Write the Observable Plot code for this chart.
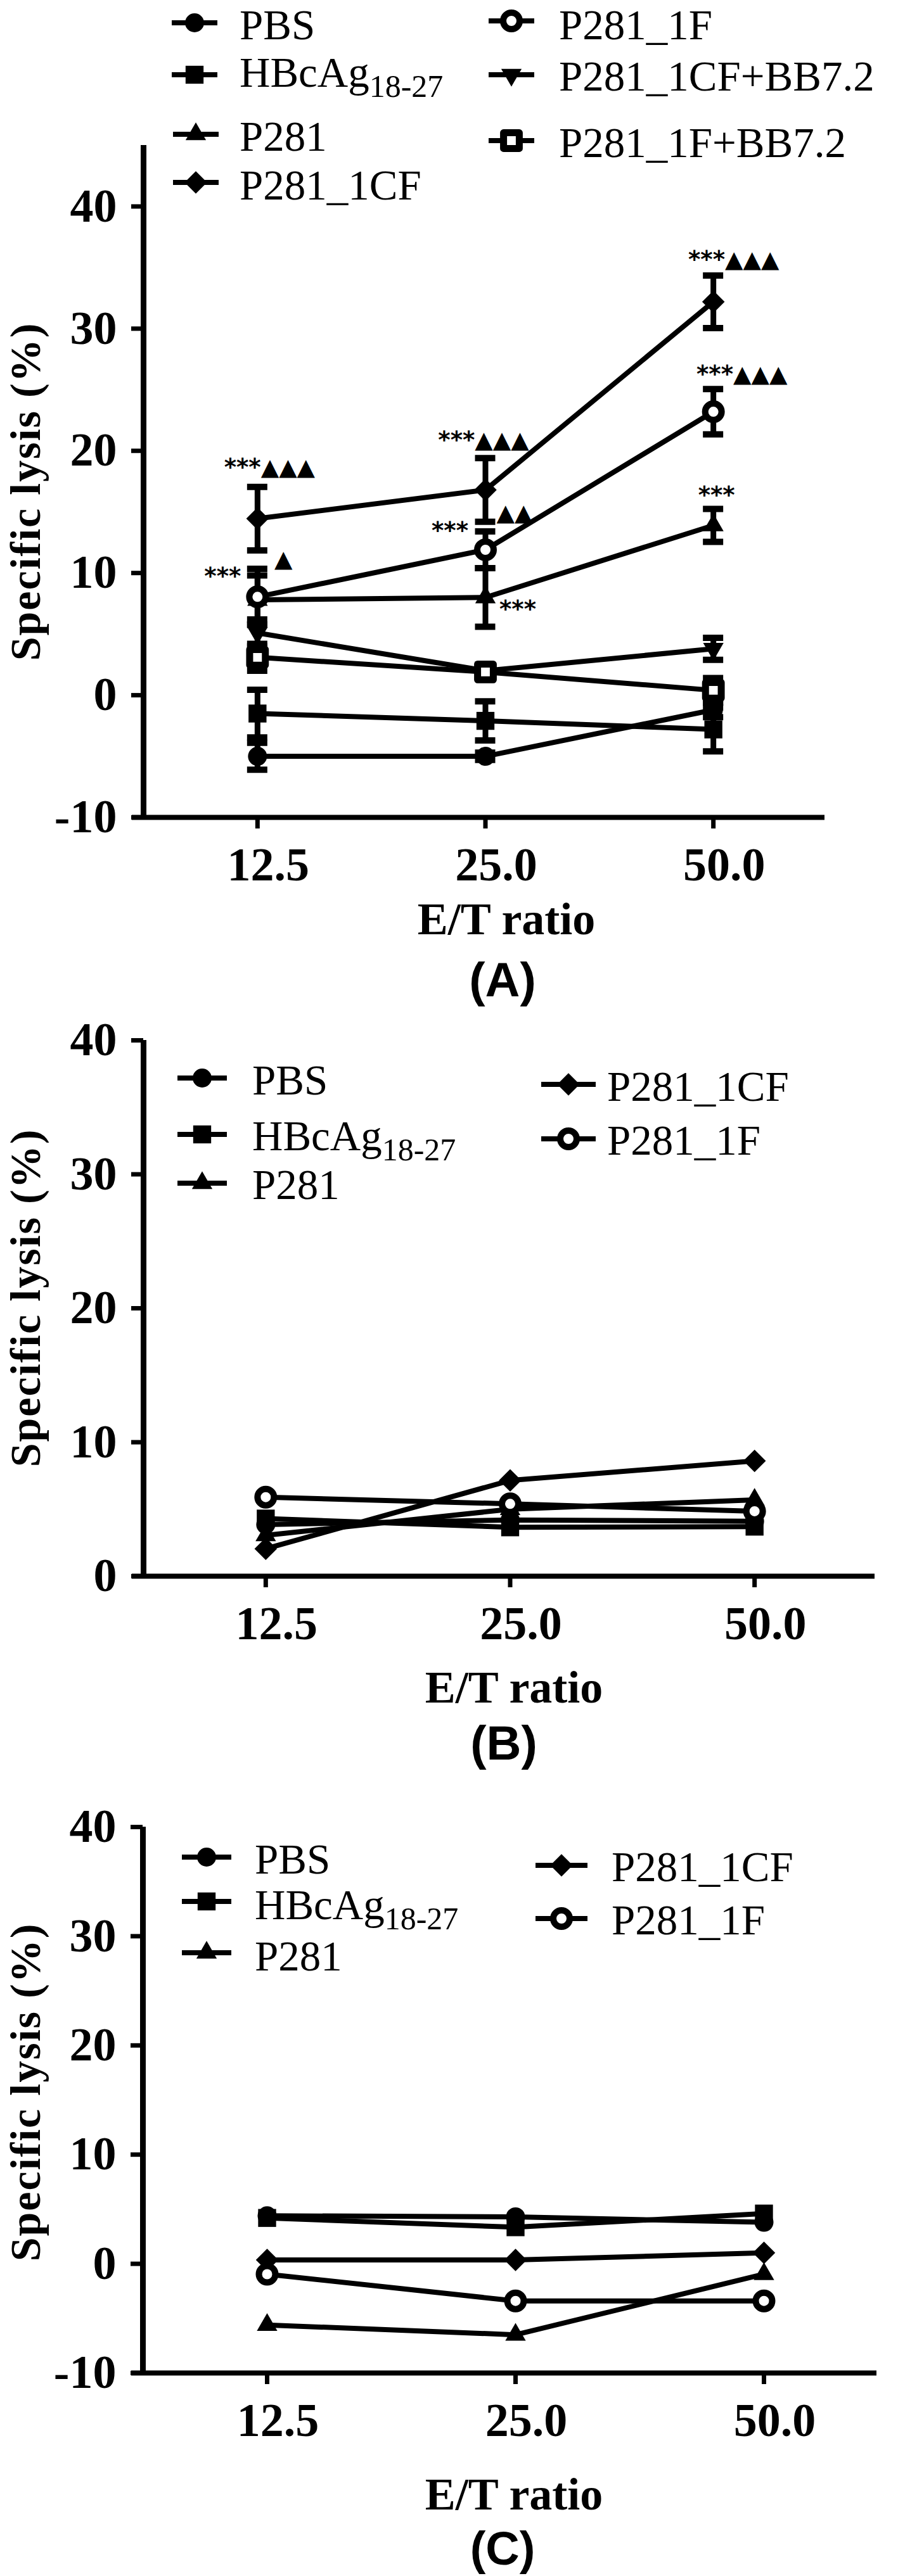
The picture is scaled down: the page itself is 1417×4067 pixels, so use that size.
<!DOCTYPE html>
<html>
<head>
<meta charset="utf-8">
<script src="https://cdn.jsdelivr.net/npm/d3@7"></script>
<script src="https://cdn.jsdelivr.net/npm/@observablehq/plot@0.6"></script>
<style>
  html, body { margin: 0; padding: 0; background: #fff; }
  #page { position: relative; width: 1417px; height: 4067px; overflow: hidden; background: #fff; }
  #page > svg { position: absolute; left: 0; }
</style>
</head>
<body>
<div id="page"></div>
<script>
// ---------------- data ----------------
const ratios = [12.5, 25, 50];
const groups = ["PBS", "HBcAg18-27", "P281", "P281_1CF", "P281_1F", "P281_1CF+BB7.2", "P281_1F+BB7.2"];

// Panel A (mean, error)
const pbsA = [-5.0, -5.0, -1.2],      pbsAErr = [1.1, 0.3, 0.6];
const hbcA = [-1.5, -2.1, -2.8],      hbcAErr = [1.95, 1.6, 1.8];
const p281A = [7.8, 8.0, 13.9],       p281AErr = [2.0, 2.4, 1.35];
const cfA = [14.45, 16.8, 32.2],      cfAErr = [2.6, 2.6, 2.15];
const fA = [8.05, 11.9, 23.2],        fAErr = [2.3, 1.5, 1.85];
const cfBbA = [5.1, 2.0, 3.8],        cfBbAErr = [1.1, 0.5, 0.9];
const fBbA = [3.1, 1.9, 0.4],         fBbAErr = [1.1, 0.5, 1.0];

// Panel B
const pbsB = [3.85, 4.2, 4.1];
const hbcB = [4.3, 3.65, 3.7];
const p281B = [3.05, 5.0, 5.7];
const cfB = [2.05, 7.15, 8.6];
const fB = [5.9, 5.4, 4.85];

// Panel C
const pbsC = [4.4, 4.3, 3.8];
const hbcC = [4.2, 3.35, 4.6];
const p281C = [-5.6, -6.5, -0.95];
const cfC = [0.35, 0.35, 1.0];
const fC = [-0.95, -3.4, -3.4];

// tick values
const yTicksA = [-10, 0, 10, 20, 30, 40];
const yTicksB = [0, 10, 20, 30, 40];
const yTicksC = [-10, 0, 10, 20, 30, 40];

// significance annotations (panel A)
const sigLabel = ["***▲▲▲", "***▲▲▲", "***▲▲▲", "***▲▲▲", "***", "▲", "***", "▲▲", "***", "***"];
const sigRatio = [12.5, 25, 50, 50, 50, 12.5, 12.5, 25, 25, 25];
const sigValue = [18.9, 21.1, 35.9, 26.5, 16.6, 11.4, 9.96, 15.15, 13.7, 7.3];
const sigShift = [19, -3, 32, 45, 5, 41, -55, 46, -56, 51];

// ---------------- helpers ----------------
function toRows(series) {
  const rows = [];
  for (const [group, vals, errs] of series) {
    vals.forEach((v, i) => rows.push({group, ratio: ratios[i], value: v, err: errs ? errs[i] : 0}));
  }
  return rows;
}
const rowsA = toRows([
  ["PBS", pbsA, pbsAErr], ["HBcAg18-27", hbcA, hbcAErr], ["P281", p281A, p281AErr],
  ["P281_1CF", cfA, cfAErr], ["P281_1F", fA, fAErr],
  ["P281_1CF+BB7.2", cfBbA, cfBbAErr], ["P281_1F+BB7.2", fBbA, fBbAErr]
]);
const rowsB = toRows([["PBS", pbsB], ["HBcAg18-27", hbcB], ["P281", p281B], ["P281_1CF", cfB], ["P281_1F", fB]]);
const rowsC = toRows([["PBS", pbsC], ["HBcAg18-27", hbcC], ["P281", p281C], ["P281_1CF", cfC], ["P281_1F", fC]]);
const notesA = sigLabel.map((label, i) => ({label, ratio: sigRatio[i], value: sigValue[i], shift: sigShift[i]}));

const diamondSym = {draw(c, s) { const r = Math.sqrt(s) * 0.62625; c.moveTo(0, -r); c.lineTo(r, 0); c.lineTo(0, r); c.lineTo(-r, 0); c.closePath(); }};
const triDownSym = {draw(c, s) { const y = -Math.sqrt(s / (3 * Math.sqrt(3))); c.moveTo(0, -2 * y); c.lineTo(-Math.sqrt(3) * y, y); c.lineTo(Math.sqrt(3) * y, y); c.closePath(); }};

const styleOf = {
  "PBS":            {symbol: d3.symbolCircle,   r: 15, fill: "black"},
  "HBcAg18-27":     {symbol: d3.symbolSquare,   r: 16, fill: "black"},
  "P281":           {symbol: d3.symbolTriangle, r: 12, fill: "black"},
  "P281_1CF":       {symbol: diamondSym,        r: 16, fill: "black"},
  "P281_1F":        {symbol: d3.symbolCircle,   r: 13, fill: "white", stroke: "black", strokeWidth: 10},
  "P281_1CF+BB7.2": {symbol: triDownSym,        r: 12, fill: "black"},
  "P281_1F+BB7.2":  {symbol: d3.symbolSquare,   r: 14, fill: "white", stroke: "black", strokeWidth: 11}
};

const serif = "'Liberation Serif', 'Times New Roman', serif";
const xDomain = [ratios[0] / Math.SQRT2, ratios[ratios.length - 1] * Math.SQRT2];

function panel({rows, yDomain, yTicks, marginTop, marginLeft, marginRight, height, lineInsetRight, notes = []}) {
  const errRows = rows.filter(d => d.err > 0);
  const present = groups.filter(g => rows.some(r => r.group === g));
  return Plot.plot({
    width: 1417,
    height,
    marginTop, marginLeft, marginRight, marginBottom: 110,
    x: {type: "log", base: 2, domain: xDomain, label: null},
    y: {domain: yDomain, label: null},
    style: {background: "none", overflow: "visible", fontFamily: serif, fontSize: "74px", fontWeight: "bold", color: "black"},
    marks: [
      Plot.ruleY([yDomain[0]], {strokeWidth: 8, insetLeft: -18, insetRight: lineInsetRight}),
      Plot.ruleX([xDomain[0]], {strokeWidth: 9, insetBottom: -4}),
      Plot.axisY({ticks: yTicks, tickSize: 19, tickPadding: 23, tickFormat: d => String(d), strokeWidth: 7, label: null}),
      Plot.axisX({ticks: ratios, tickSize: 18, strokeWidth: 7, fill: "none", tickFormat: () => "", label: null}),
      Plot.axisX({ticks: ratios, tickSize: 0, tickPadding: 47, tickFormat: d3.format(".1f"), dx: 17, label: null}),
      Plot.line(rows, {x: "ratio", y: "value", z: "group", stroke: "black", strokeWidth: 8}),
      Plot.ruleX(errRows, {x: "ratio", y1: d => d.value - d.err, y2: d => d.value + d.err, strokeWidth: 9}),
      Plot.ruleY(errRows, {x1: "ratio", x2: "ratio", y: d => d.value + d.err, insetLeft: -16, insetRight: -16, strokeWidth: 10}),
      Plot.ruleY(errRows, {x1: "ratio", x2: "ratio", y: d => d.value - d.err, insetLeft: -16, insetRight: -16, strokeWidth: 10}),
      ...present.map(g => Plot.dot(rows.filter(r => r.group === g), {
        x: "ratio", y: "value", strokeLinejoin: "round", ...styleOf[g]
      })),
      ...notes.map(n => Plot.text([n], {
        x: "ratio", y: "value", text: "label", dx: n.shift, dy: 5,
        fontFamily: "'DejaVu Sans', sans-serif", fontWeight: "bold", fontSize: 37,
        fill: "black", style: "letter-spacing:4px"
      }))
    ]
  });
}

const page = document.getElementById("page");

const svgA = panel({rows: rowsA, yDomain: [-10, 45], yTicks: yTicksA, marginTop: 229, marginLeft: 226, marginRight: 112, height: 1400, lineInsetRight: 4, notes: notesA});
svgA.style.top = "0px";
page.appendChild(svgA);

const svgB = panel({rows: rowsB, yDomain: [0, 40], yTicks: yTicksB, marginTop: 82, marginLeft: 226, marginRight: 34, height: 1038, lineInsetRight: 3});
svgB.style.top = "1560px";
page.appendChild(svgB);

const svgC = panel({rows: rowsC, yDomain: [-10, 40], yTicks: yTicksC, marginTop: 84, marginLeft: 225, marginRight: 16, height: 1056, lineInsetRight: 18});
svgC.style.top = "2800px";
page.appendChild(svgC);

// ---------------- titles, panel labels, legends (overlay) ----------------
const ov = d3.select(page).append("svg")
  .attr("width", 1417).attr("height", 4067)
  .style("top", "0px").style("pointer-events", "none");

[776, 2049, 3303].forEach(cy => {
  ov.append("text")
    .attr("transform", `translate(63,${cy}) rotate(-90)`)
    .attr("text-anchor", "middle")
    .attr("font-family", serif).attr("font-weight", "bold").attr("font-size", 68)
    .attr("letter-spacing", 2)
    .text("Specific lysis (%)");
});
[[799, 1475], [811, 2688], [811, 3962]].forEach(([cx, by]) => {
  ov.append("text").attr("x", cx).attr("y", by).attr("text-anchor", "middle")
    .attr("font-family", serif).attr("font-weight", "bold").attr("font-size", 72)
    .text("E/T ratio");
});
[["(A)", 793, 1573, 76], ["(B)", 795, 2778, 76], ["(C)", 793, 4049, 74]].forEach(([t, cx, by, fs]) => {
  ov.append("text").attr("x", cx).attr("y", by).attr("text-anchor", "middle")
    .attr("font-family", "'Liberation Sans', Arial, sans-serif").attr("font-weight", "bold").attr("font-size", fs)
    .text(t);
});

const legendLayout = [
  // panel A
  ["PBS", 307, 36, 378, 62, 36], ["HBcAg18-27", 307, 118, 378, 137, 36], ["P281", 309, 212, 378, 238, 36], ["P281_1CF", 309, 288, 378, 315, 36],
  ["P281_1F", 807, 33, 882, 62, 36], ["P281_1CF+BB7.2", 807, 118, 882, 143, 36], ["P281_1F+BB7.2", 807, 222, 882, 248, 36],
  // panel B
  ["PBS", 319, 1702, 398, 1728, 39], ["HBcAg18-27", 319, 1791, 398, 1816, 39], ["P281", 319, 1868, 398, 1893, 39],
  ["P281_1CF", 897, 1712, 958, 1738, 43], ["P281_1F", 897, 1798, 958, 1823, 43],
  // panel C
  ["PBS", 326, 2932, 402, 2958, 39], ["HBcAg18-27", 326, 3002, 402, 3030, 39], ["P281", 326, 3083, 402, 3111, 39],
  ["P281_1CF", 886, 2945, 965, 2970, 41], ["P281_1F", 886, 3029, 965, 3054, 41]
];
legendLayout.forEach(([g, mx, my, tx, ty, half]) => {
  const st = styleOf[g];
  ov.append("line").attr("x1", mx - half).attr("x2", mx + half).attr("y1", my).attr("y2", my)
    .attr("stroke", "black").attr("stroke-width", 8);
  ov.append("path")
    .attr("transform", `translate(${mx},${my})`)
    .attr("d", d3.symbol(st.symbol, Math.PI * st.r * st.r)())
    .attr("fill", st.fill).attr("stroke", st.stroke || "none").attr("stroke-width", st.strokeWidth || 0)
    .attr("stroke-linejoin", "round");
  const t = ov.append("text").attr("x", tx).attr("y", ty)
    .attr("font-family", serif).attr("font-size", 67);
  if (g === "HBcAg18-27") {
    t.append("tspan").text("HBcAg");
    t.append("tspan").attr("font-size", 50).attr("dy", 16).text("18-27");
  } else {
    t.text(g);
  }
});
</script>
</body>
</html>
